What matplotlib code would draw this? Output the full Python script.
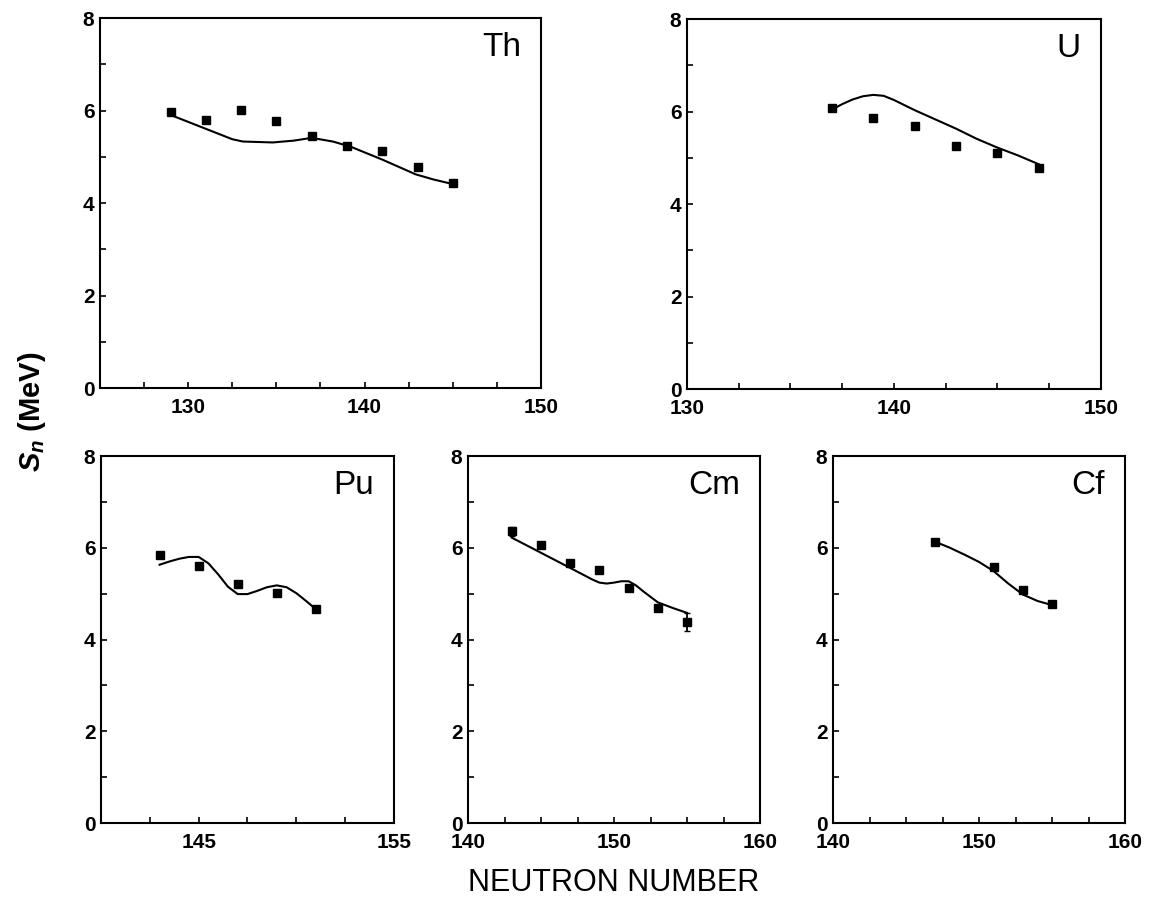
import numpy as np
import matplotlib
matplotlib.use('Agg')
import matplotlib.pyplot as plt
from matplotlib.ticker import FixedLocator, NullFormatter

plt.rcParams['font.family'] = ['Liberation Sans', 'DejaVu Sans']
plt.rcParams['mathtext.fontset'] = 'custom'
plt.rcParams['mathtext.rm'] = 'Liberation Sans:bold'
plt.rcParams['mathtext.it'] = 'Liberation Sans:italic:bold'

# measured points (neutron number, S_n in MeV)
th_n = [129, 131, 133, 135, 137, 139, 141, 143, 145]
th_s = [5.97, 5.80, 6.01, 5.77, 5.45, 5.24, 5.12, 4.79, 4.43]
u_n = [137, 139, 141, 143, 145, 147]
u_s = [6.08, 5.87, 5.69, 5.25, 5.10, 4.78]
pu_n = [143, 145, 147, 149, 151]
pu_s = [5.84, 5.61, 5.21, 5.01, 4.66]
cm_n = [143, 145, 147, 149, 151, 153, 155]
cm_s = [6.36, 6.05, 5.67, 5.51, 5.13, 4.68, 4.38]
cm_err = [0.1, 0, 0, 0, 0, 0, 0.2]
cf_n = [147, 151, 153, 155]
cf_s = [6.13, 5.57, 5.09, 4.78]

# calculated curves
th_cn = [128.9, 130.7, 132.5, 133.1, 134.8, 136.0, 137.0, 138.2, 139.2, 141.0, 142.9, 143.9, 145.0]
th_cs = [5.92, 5.65, 5.38, 5.33, 5.31, 5.35, 5.41, 5.33, 5.22, 4.94, 4.62, 4.51, 4.41]
u_cn = [137, 137.5, 138, 138.5, 139, 139.5, 140, 141, 142, 143, 144, 145, 146, 147]
u_cs = [6.04, 6.16, 6.26, 6.33, 6.36, 6.34, 6.25, 6.03, 5.83, 5.63, 5.41, 5.22, 5.05, 4.86]
pu_cn = [143, 143.5, 144, 144.5, 145, 145.5, 146, 146.5, 147, 147.5, 148, 148.5, 149, 149.5, 150, 150.5, 151]
pu_cs = [5.63, 5.70, 5.76, 5.80, 5.80, 5.66, 5.42, 5.15, 4.99, 4.99, 5.06, 5.14, 5.18, 5.14, 5.01, 4.84, 4.66]
cm_cn = [143, 145, 147, 148.5, 149, 149.5, 150, 150.5, 151, 151.5, 152, 153, 154, 155]
cm_cs = [6.22, 5.89, 5.56, 5.31, 5.24, 5.22, 5.24, 5.27, 5.27, 5.18, 5.05, 4.81, 4.69, 4.58]
cf_cn = [147, 148, 149, 150, 151, 152, 153, 154, 155]
cf_cs = [6.13, 6.00, 5.85, 5.69, 5.49, 5.22, 4.98, 4.84, 4.75]

panels = [
    # name, pos, xlim, labelled ticks, points, errors, curve
    ('Th', [0.0867, 0.5679, 0.3825, 0.412], (125, 150), [130, 140, 150], th_n, th_s, None, th_cn, th_cs),
    ('U', [0.5958, 0.5668, 0.359, 0.412], (130, 150), [130, 140, 150], u_n, u_s, None, u_cn, u_cs),
    ('Pu', [0.0876, 0.0835, 0.2541, 0.4087], (140, 155), [145, 155], pu_n, pu_s, None, pu_cn, pu_cs),
    ('Cm', [0.4059, 0.0835, 0.2533, 0.4087], (140, 160), [140, 150, 160], cm_n, cm_s, cm_err, cm_cn, cm_cs),
    ('Cf', [0.7225, 0.0835, 0.2533, 0.4087], (140, 160), [140, 150, 160], cf_n, cf_s, None, cf_cn, cf_cs),
]

fig = plt.figure(figsize=(11.53, 8.98), dpi=100)

for name, pos, xlim, xlab, pn, ps, perr, cn, cs in panels:
    ax = fig.add_axes(pos)
    ax.plot(cn, cs, color='black', lw=1.5)
    if perr is not None:
        ax.errorbar(pn, ps, yerr=perr, fmt='s', color='black', ms=5.5,
                    elinewidth=1.3, capsize=2)
    else:
        ax.plot(pn, ps, 's', color='black', ms=5.5)
    ax.set_xlim(*xlim)
    ax.set_ylim(0, 8)
    ax.xaxis.set_major_locator(FixedLocator(xlab))
    minor = np.arange(xlim[0] + 2.5, xlim[1], 2.5)
    ax.xaxis.set_minor_locator(FixedLocator([m for m in minor if m not in xlab]))
    ax.xaxis.set_minor_formatter(NullFormatter())
    ax.yaxis.set_major_locator(FixedLocator([0, 2, 4, 6, 8]))
    ax.yaxis.set_minor_locator(FixedLocator([1, 3, 5, 7]))
    ax.tick_params(which='both', direction='in', length=4.5, width=1.2,
                   labelsize=15, top=False, right=False)
    ax.tick_params(axis='x', pad=7)
    ax.tick_params(axis='y', pad=4)
    for lbl in ax.get_xticklabels() + ax.get_yticklabels():
        lbl.set_fontweight('bold')
    for sp in ax.spines.values():
        sp.set_linewidth(1.5)
    ax.annotate(name, xy=(1, 1), xycoords='axes fraction', xytext=(-20, -14),
                textcoords='offset pixels', ha='right', va='top', fontsize=24)

fig.text(0.532, 0.008, 'NEUTRON NUMBER', ha='center', va='baseline', fontsize=22)
fig.text(0.028, 0.541, r'$S_n$ (MeV)', rotation=90, ha='center', va='center',
         fontsize=21, fontweight='bold')

fig.savefig('out.png', dpi=100)
